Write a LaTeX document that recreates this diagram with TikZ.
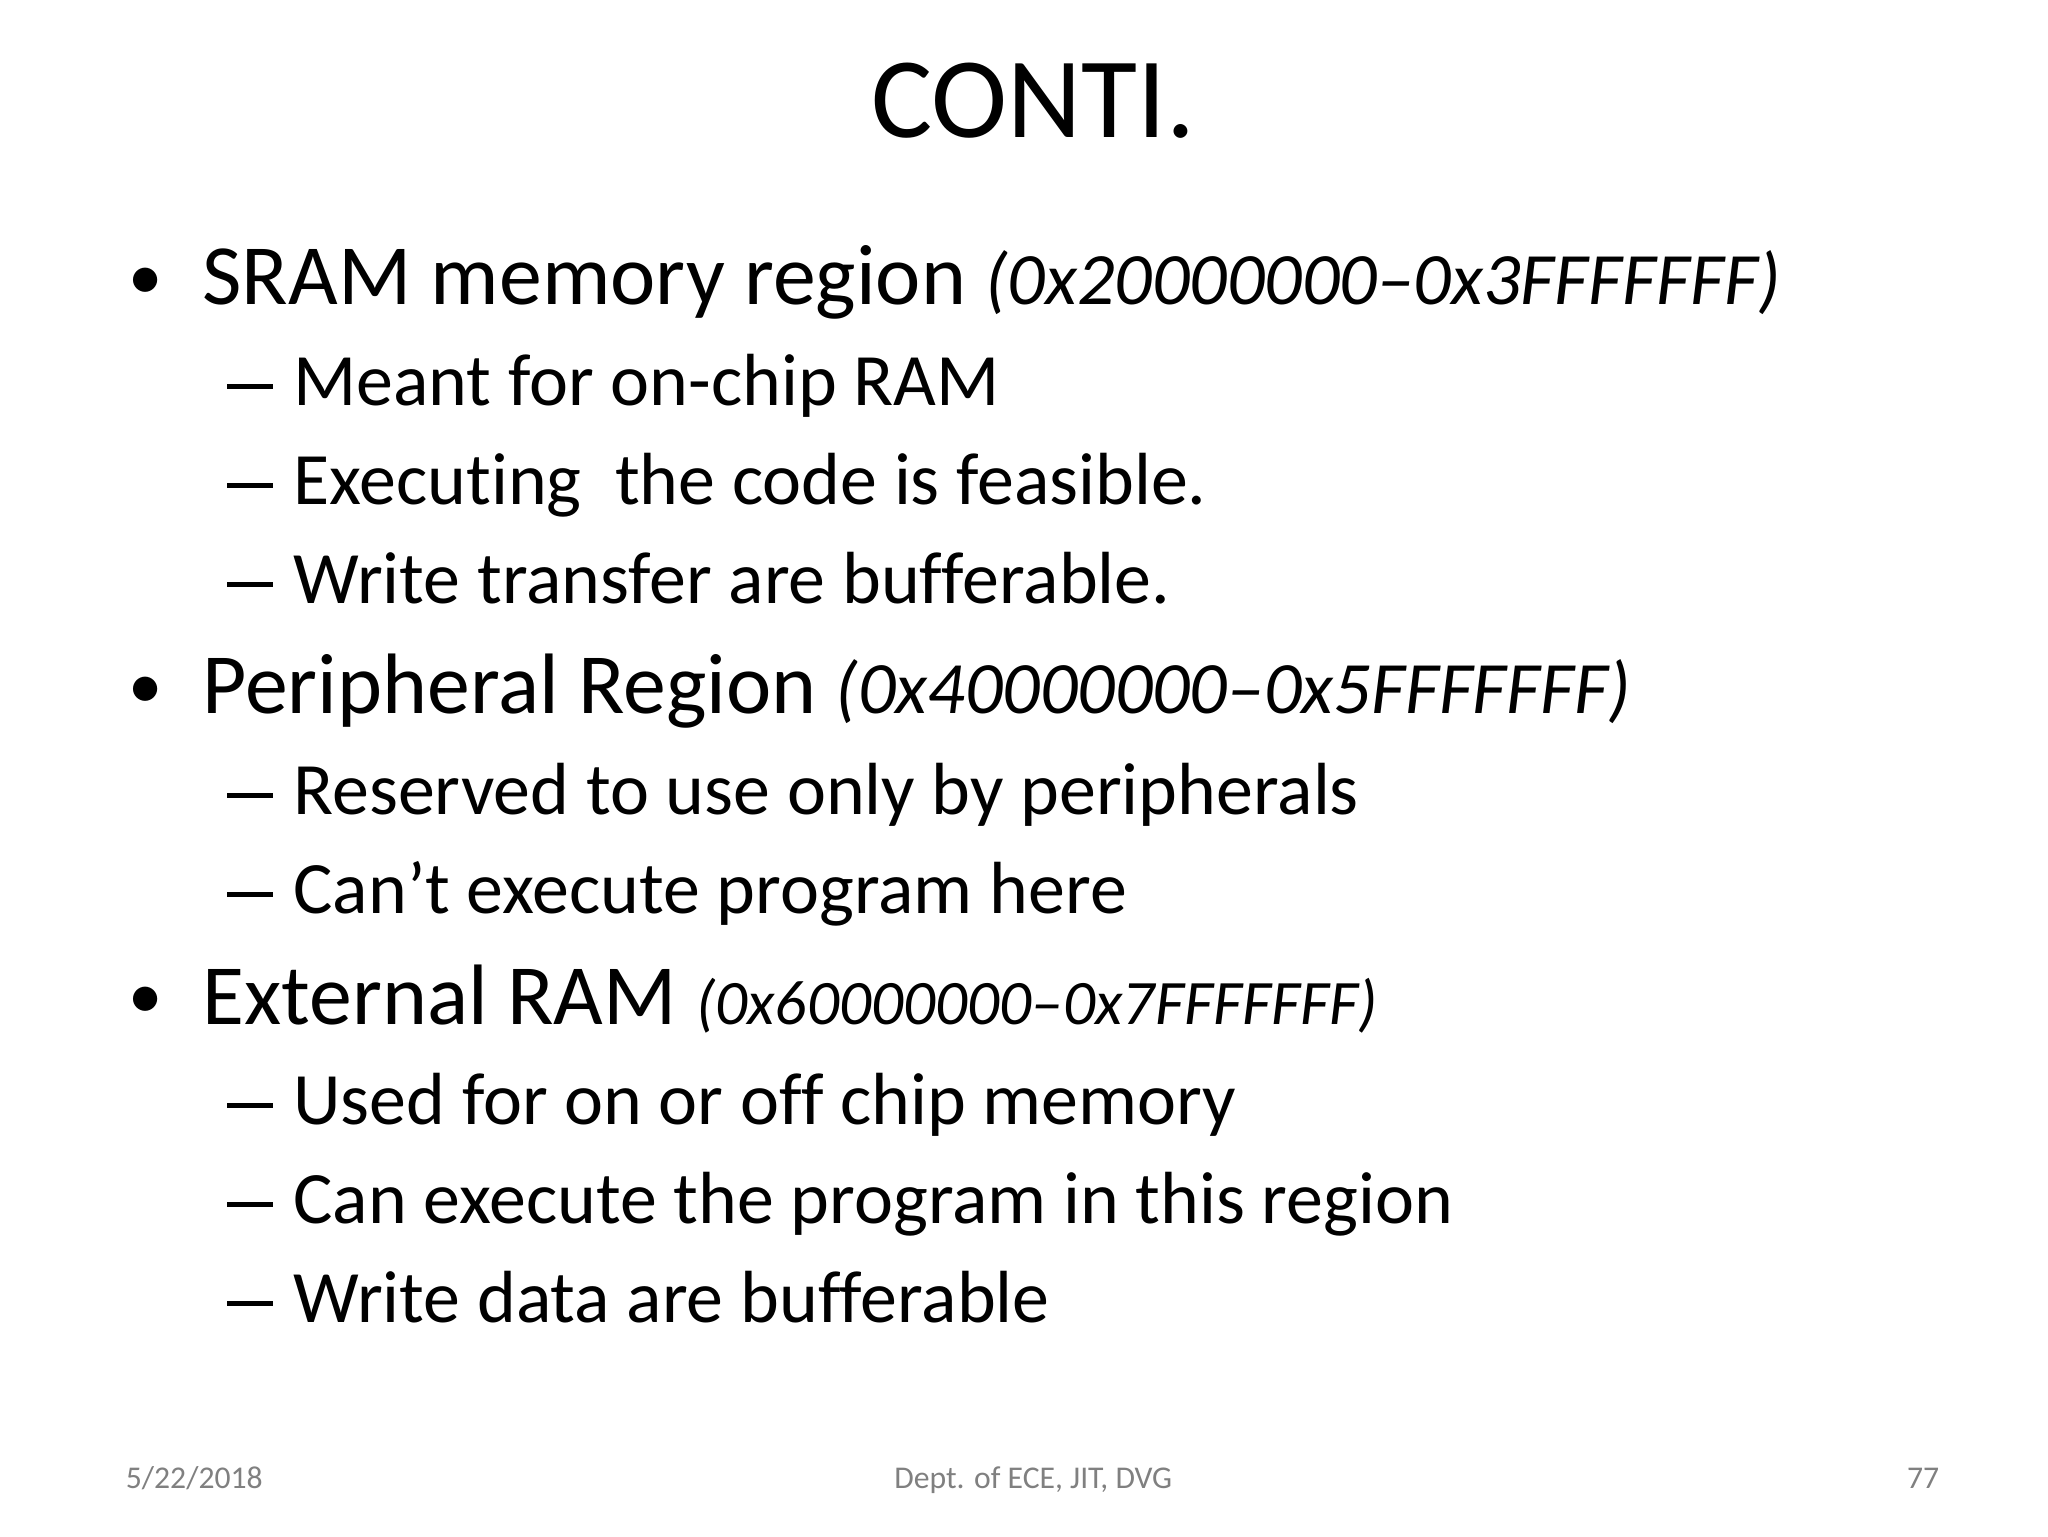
\documentclass[tikz,border=0pt]{standalone}
\usepackage{fontspec}
\setmainfont[Ligatures=NoCommon]{Carlito}
\newcommand{\dsh}{\rule[0.22em]{0.62em}{0.065em}}
\begin{document}
\begin{tikzpicture}[x=0.5pt,y=-0.5pt,
  lone/.style={anchor=base west,inner sep=0pt,font=\fontsize{32.5}{38}\selectfont},
  ltwo/.style={anchor=base west,inner sep=0pt,font=\fontsize{28}{32}\selectfont},
  foot/.style={anchor=base,inner sep=0pt,font=\fontsize{12}{14}\selectfont,text=gray}]
\useasboundingbox (0,0) rectangle (1552,1164);
\node[anchor=base,inner sep=0pt,font=\fontsize{43.5}{52}\selectfont] (title) at (783,104) {CONTI.};
% level 1
\foreach \n/\y/\t in {b1/231/{SRAM memory region \textit{\fontsize{28}{32}\selectfont(0x20000000–0x3FFFFFFF)}},
  b2/541/{Peripheral Region \textit{\fontsize{28}{32}\selectfont(0x40000000–0x5FFFFFFF)}},
  b3/776/{External RAM \textit{\fontsize{24}{28}\selectfont(0x60000000–0x7FFFFFFF)}}}{
  \node[lone,font=\fontsize{26}{30}\selectfont] (\n d) at (97,\y-4) {•};
  \node[lone] (\n) at (153,\y) {\t};
}
% level 2
\foreach \n/\y/\t in {s1/307/{Meant for on-chip RAM},s2/382/{Executing\ \ the code is feasible.},
  s3/457/{Write transfer are bufferable.},s4/617/{Reserved to use only by peripherals},
  s5/692/{Can’t execute program here},s6/852/{Used for on or off chip memory},
  s7/927/{Can execute the program in this region},s8/1002/{Write data are bufferable}}{
  \node[ltwo] (\n d) at (172,\y) {\dsh};
  \node[ltwo] (\n) at (222,\y) {\t};
}
\node[foot,anchor=base west] (date) at (95,1128) {5/22/2018};
\node[foot] (dept) at (783,1128) {Dept. of ECE, JIT, DVG};
\node[foot,anchor=base east] (num) at (1470,1128) {77};
\end{tikzpicture}
\end{document}
